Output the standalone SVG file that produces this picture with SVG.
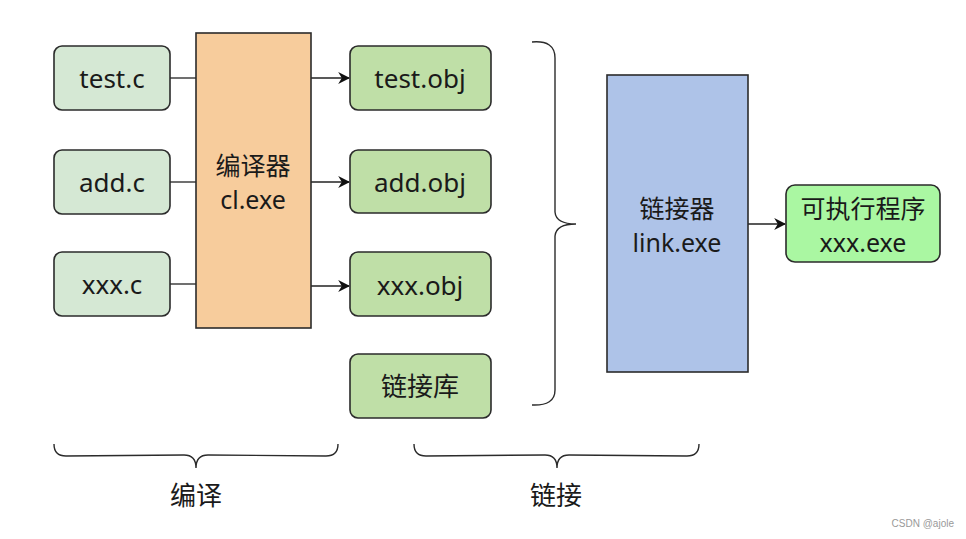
<svg xmlns="http://www.w3.org/2000/svg" width="966" height="539" viewBox="0 0 966 539">
<defs>
<style>
.t{font-family:"Noto Sans","Noto Sans CJK SC",sans-serif;font-size:26px;fill:#1a1a1a;text-anchor:middle;dominant-baseline:central}
.t2{font-size:25px}
.b{stroke:#2b2b2b;stroke-width:1.6}
.ln{stroke:#222;stroke-width:1.3;fill:none}
.br{stroke:#2b2b2b;stroke-width:1.4;fill:none}
</style>
<marker id="ah" viewBox="0 0 10 10" refX="9" refY="5" markerWidth="12" markerHeight="12" orient="auto" markerUnits="userSpaceOnUse">
<path d="M0,0 L10,5 L0,10 L3,5 Z" fill="#111"/>
</marker>
</defs>
<rect width="966" height="539" fill="#fff"/>
<g id="connectors">
<line class="ln" x1="170" y1="78" x2="196" y2="78"/>
<line class="ln" x1="170" y1="182" x2="196" y2="182"/>
<line class="ln" x1="170" y1="284" x2="196" y2="284"/>
<line class="ln" x1="311" y1="78" x2="349" y2="78" marker-end="url(#ah)"/>
<line class="ln" x1="311" y1="182" x2="349" y2="182" marker-end="url(#ah)"/>
<line class="ln" x1="311" y1="286" x2="349" y2="286" marker-end="url(#ah)"/>
<line class="ln" x1="748" y1="224" x2="785" y2="224" marker-end="url(#ah)"/>
</g>
<g id="test_c"><rect class="b" x="54" y="46" width="116" height="64" rx="8" fill="#D5E8D4"/><text class="t" x="112" y="78">test.c</text></g>
<g id="add_c"><rect class="b" x="54" y="150" width="116" height="64" rx="8" fill="#D5E8D4"/><text class="t" x="112" y="182">add.c</text></g>
<g id="xxx_c"><rect class="b" x="54" y="252" width="116" height="64" rx="8" fill="#D5E8D4"/><text class="t" x="112" y="284">xxx.c</text></g>
<g id="compiler"><rect class="b" x="196" y="33" width="115" height="295" fill="#F7CC9C"/><text class="t t2" x="253" y="165">编译器</text><text class="t t2" x="253" y="199">cl.exe</text></g>
<g id="test_obj"><rect class="b" x="350" y="46" width="141" height="64" rx="8" fill="#BFDFA7"/><text class="t" x="420" y="78">test.obj</text></g>
<g id="add_obj"><rect class="b" x="350" y="150" width="141" height="63" rx="8" fill="#BFDFA7"/><text class="t" x="420" y="182">add.obj</text></g>
<g id="xxx_obj"><rect class="b" x="350" y="252" width="141" height="64" rx="8" fill="#BFDFA7"/><text class="t" x="420" y="285">xxx.obj</text></g>
<g id="lib"><rect class="b" x="350" y="354" width="141" height="64" rx="8" fill="#BFDFA7"/><text class="t" x="420" y="386">链接库</text></g>
<g id="brace_right"><path class="br" d="M532,42 Q555,40 555,58 L555,212 Q556,224 576,224 Q556,224 555,236 L555,390 Q555,406 532,405"/></g>
<g id="linker"><rect class="b" x="607" y="75" width="141" height="297" fill="#AEC3E8"/><text class="t t2" x="677" y="208">链接器</text><text class="t t2" x="677" y="242">link.exe</text></g>
<g id="exe"><rect class="b" x="786" y="185" width="154" height="77" rx="9" fill="#AAF7A2"/><text class="t t2" x="863" y="208">可执行程序</text><text class="t t2" x="863" y="242">xxx.exe</text></g>
<g id="brace_compile"><path class="br" d="M54,444 Q54,456 66,456 L184,455 Q196,455 196,468 Q196,455 208,455 L326,456 Q338,456 338,444"/><text class="t" x="196" y="495">编译</text></g>
<g id="brace_link"><path class="br" d="M414,444 Q414,456 426,456 L545,455 Q557,455 557,468 Q557,455 569,455 L687,456 Q699,456 699,444"/><text class="t" x="556" y="495">链接</text></g>
<text x="954" y="527" font-family="Liberation Sans,Arial,sans-serif" font-size="10" fill="#999" text-anchor="end">CSDN @ajole</text>
</svg>
